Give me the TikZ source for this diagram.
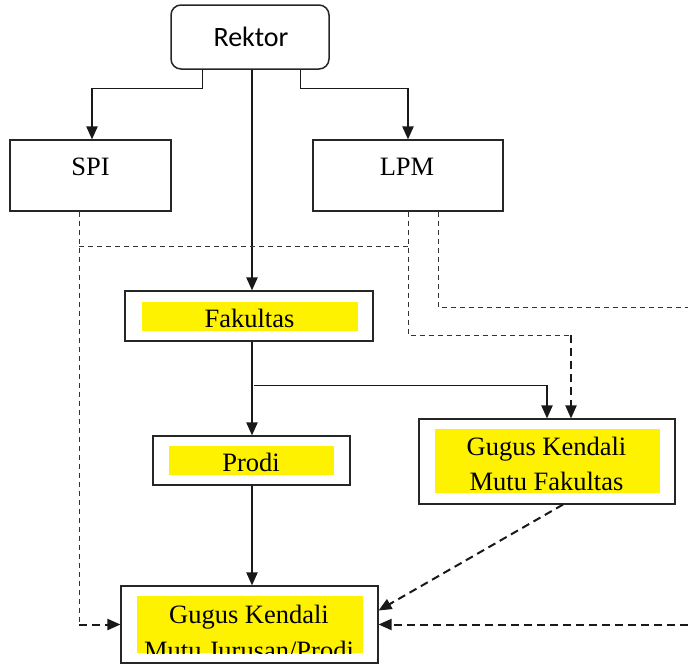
\documentclass[tikz,border=0pt]{standalone}
\usepackage{fontspec}
\setmainfont{Liberation Serif}
\newfontfamily\calib{Carlito}
\usetikzlibrary{arrows.meta}
\begin{document}
\begin{tikzpicture}[x=1pt,y=-1pt,
  box/.style={draw=black!85,line width=1.1pt,inner sep=0pt},
  hl/.style={fill=yellow,inner sep=0pt},
  txt/.style={font=\fontsize{26.5}{36}\selectfont,inner sep=0pt,anchor=base},
  solidline/.style={line width=1pt,black!90},
  solidarrow/.style={line width=2pt,black!90,-{Triangle[length=13pt,width=11pt]}},
  thindash/.style={line width=1pt,black!80,dash pattern=on 5pt off 4pt},
  thickdash/.style={line width=2pt,black!90,dash pattern=on 8pt off 5pt},
  dasharrow/.style={thickdash,-{Triangle[length=13pt,width=11pt]}},
]
\useasboundingbox (0,0) rectangle (688,664);

% boxes
\node[box,rounded corners=10pt,line width=1.5pt,minimum width=158pt,minimum height=64pt] (rektor) at (250,37) {};
\node[font=\calib\fontsize{28}{34}\selectfont,inner sep=0pt,anchor=base] (rektortext) at (251,46) {Rektor};

\node[box,minimum width=161pt,minimum height=71pt] (spi) at (90.5,175.5) {};
\node[txt] (spitext) at (90.5,175) {SPI};

\node[box,minimum width=190pt,minimum height=71pt] (lpm) at (408,175.5) {};
\node[txt] (lpmtext) at (407,175) {LPM};

\node[box,minimum width=248pt,minimum height=50pt] (fak) at (249,316) {};
\node[hl,minimum width=216pt,minimum height=29pt] (fakhl) at (250,316.5) {};
\node[txt] (faktext) at (249.5,327) {Fakultas};

\node[box,minimum width=197pt,minimum height=49pt] (prodi) at (251.5,460.5) {};
\node[hl,minimum width=165pt,minimum height=29pt] (prodihl) at (251.5,460.5) {};
\node[txt] (proditext) at (251,471) {Prodi};

\node[box,minimum width=256pt,minimum height=85pt] (gkf) at (547,461.5) {};
\node[hl,minimum width=225pt,minimum height=64pt] (gkfhl) at (547.5,461) {};
\node[txt] (gkftexta) at (546.5,455) {Gugus Kendali};
\node[txt] (gkftextb) at (546.5,490) {Mutu Fakultas};

\node[box,minimum width=257pt,minimum height=77pt] (gkj) at (249.5,624.5) {};
\node[hl,minimum width=226pt,minimum height=57pt] (gkjhl) at (250,624.5) {};
\node[txt] (gkjtexta) at (249,623) {Gugus Kendali};
\begin{scope}
  \clip (gkjhl.north west) rectangle (gkjhl.south east);
  \node[txt] (gkjtextb) at (249,659) {Mutu Jurusan/Prodi};
\end{scope}

% coordinates
\coordinate (axis) at (252,0);
\coordinate (bl) at (92,88);
\coordinate (br) at (408,88);
\coordinate (fork) at (254,385);
\coordinate (spix) at (79,0);
\coordinate (lpmx) at (408,0);
\coordinate (lpmy) at (438,0);
\coordinate (cspi) at (79,624.5);
\coordinate (hjoin) at (79,246);
\coordinate (hjoinr) at (408,246);
\coordinate (cl1) at (408,335);
\coordinate (cl2) at (571,335);
\coordinate (cr1) at (438,307);
\coordinate (edge1) at (688,307);
\coordinate (edge2) at (688,624.5);

% solid connectors
\draw[solidline] ([xshift=-48pt]rektor.south) |- (bl);
\draw[solidarrow] (bl) -- (bl |- spi.north);
\draw[solidline] ([xshift=50pt]rektor.south) |- (br);
\draw[solidarrow] (br) -- (br |- lpm.north);
\draw[solidarrow] (rektor.south -| axis) -- (fak.north -| axis);
\draw[solidarrow] (fak.south -| axis) -- (prodi.north -| axis);
\draw[solidline] (fork) -- (fork -| gkf.north);
\draw[solidarrow] (fork -| gkf.north) -- (gkf.north);
\draw[solidarrow] (prodi.south -| axis) -- (gkj.north -| axis);

% dashed connectors
\draw[thindash] (spi.south -| spix) -- (cspi);
\draw[dasharrow] (cspi) -- (gkj.west);
\draw[thindash] (hjoin) -- (hjoinr);
\draw[thindash] (lpm.south -| lpmx) -- (cl1) -- (cl2);
\draw[dasharrow] (cl2) -- (cl2 |- gkf.north);
\draw[thindash] (lpm.south -| lpmy) -- (cr1) -- (edge1);
\draw[dasharrow] ([xshift=16pt]gkf.south) -- ([yshift=14pt]gkj.east);
\draw[dasharrow] (edge2) -- (gkj.east);
\end{tikzpicture}
\end{document}
